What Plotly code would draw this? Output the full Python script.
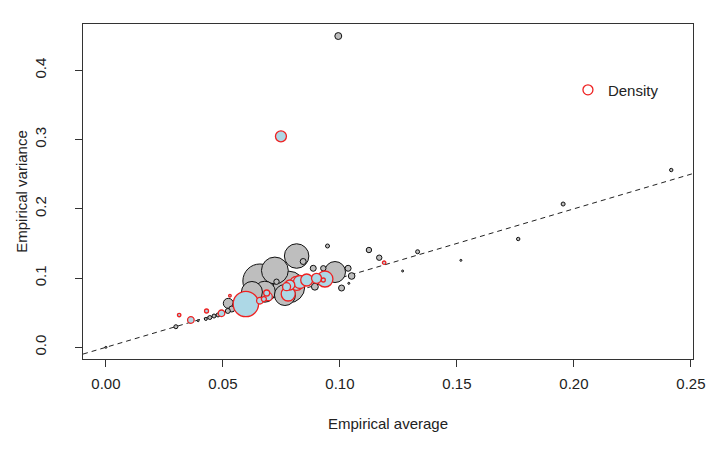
import plotly.graph_objects as go

# ---- data: "other" group (gray bubbles) ----
other_avg = [0.0658, 0.0782, 0.0722, 0.0815, 0.0979, 0.0679, 0.0765, 0.0624, 0.0523, 0.0556,
             0.0993, 0.0893, 0.1050, 0.0843, 0.1035, 0.1007, 0.0886, 0.0538, 0.0929, 0.0729,
             0.1124, 0.1168, 0.0521, 0.0947, 0.1332, 0.1954, 0.0479, 0.0462, 0.0444, 0.0299,
             0.1762, 0.2416, 0.0427, 0.0394, 0.0359, 0.1038, 0.0000, 0.1268, 0.1517]
other_var = [0.0957, 0.0871, 0.1109, 0.1318, 0.1087, 0.0803, 0.0755, 0.0799, 0.0635, 0.0596,
             0.4495, 0.0875, 0.1030, 0.1239, 0.1141, 0.0856, 0.1141, 0.0553, 0.1141, 0.0947,
             0.1405, 0.1294, 0.0525, 0.1463, 0.1380, 0.2069, 0.0467, 0.0452, 0.0430, 0.0297,
             0.1564, 0.2560, 0.0409, 0.0384, 0.0365, 0.0924, 0.0000, 0.1102, 0.1256]
other_n = [2900, 2500, 1800, 1500, 1100, 1100, 1100, 1100, 250, 160,
           120, 120, 110, 90, 90, 90, 90, 90, 73, 73,
           73, 73, 62, 40, 40, 40, 40, 40, 40, 40,
           29, 29, 22, 10, 10, 6, 6, 5, 3]

# ---- data: "Density" group (light blue bubbles, red outline) ----
dens_avg = [0.0598, 0.0936, 0.0815, 0.0779, 0.0829, 0.0858, 0.0748, 0.0786, 0.0900, 0.0694,
            0.0772, 0.0658, 0.0494, 0.0363, 0.0687, 0.0675, 0.0430, 0.0929, 0.0313, 0.1189,
            0.0530]
dens_var = [0.0625, 0.0986, 0.0924, 0.0770, 0.0943, 0.0972, 0.3047, 0.0900, 0.0996, 0.0731,
            0.0875, 0.0673, 0.0491, 0.0394, 0.0784, 0.0697, 0.0524, 0.0972, 0.0466, 0.1222,
            0.0745]
dens_n = [1613, 640, 490, 490, 423, 360, 303, 250, 250, 160,
          160, 109, 109, 109, 90, 62, 40, 40, 29, 29,
          17]

# reference line: variance = average
ref_slope = 1.0
ref_intercept = 0.0

x_range = [-0.0098, 0.2509]
y_range = [-0.0169, 0.4669]
x_ticks = [0.00, 0.05, 0.10, 0.15, 0.20, 0.25]
x_ticklabels = ["0.00", "0.05", "0.10", "0.15", "0.20", "0.25"]
y_ticks = [0.0, 0.1, 0.2, 0.3, 0.4]
y_ticklabels = ["0.0", "0.1", "0.2", "0.3", "0.4"]

FONT = "Liberation Sans, Arial, sans-serif"
SIZEREF = 5.0

fig = go.Figure()

fig.add_trace(go.Scatter(
    x=x_range,
    y=[ref_intercept + ref_slope * v for v in x_range],
    mode="lines",
    line=dict(color="#222222", width=1, dash="5px,4px"),
    showlegend=False, hoverinfo="skip",
))

fig.add_trace(go.Scatter(
    x=other_avg, y=other_var, mode="markers", name="Other",
    marker=dict(size=other_n, sizemode="area", sizeref=SIZEREF, sizemin=1,
                color="#BEBEBE", opacity=1,
                line=dict(color="#111111", width=1)),
    showlegend=False,
))

fig.add_trace(go.Scatter(
    x=dens_avg, y=dens_var, mode="markers", name="Density",
    marker=dict(size=dens_n, sizemode="area", sizeref=SIZEREF, sizemin=1,
                color="#ADD8E6", opacity=1,
                line=dict(color="#EE2222", width=1.3)),
    showlegend=False,
))

# legend entry (open red circle, as in the original key)
fig.add_trace(go.Scatter(
    x=[None], y=[None], mode="markers", name="Density",
    marker=dict(symbol="circle-open", size=10, color="#EE2222", line=dict(width=1.3)),
    showlegend=True,
))

axis_common = dict(
    showline=True, linecolor="#333333", linewidth=1, mirror=True,
    ticks="outside", ticklen=7, tickwidth=1, tickcolor="#333333",
    showgrid=False, zeroline=False, automargin=False,
    tickfont=dict(family=FONT, size=15, color="#222222"),
)

fig.update_xaxes(
    range=x_range, tickvals=x_ticks, ticktext=x_ticklabels,
    title=dict(text="Empirical average", font=dict(family=FONT, size=15, color="#222222"), standoff=27),
    ticklabelstandoff=4,
    **axis_common,
)
fig.update_yaxes(
    range=y_range, tickvals=y_ticks, ticktext=y_ticklabels, tickangle=-90,
    title=dict(text="Empirical variance", font=dict(family=FONT, size=15, color="#222222"), standoff=0),
    ticklabelstandoff=23,
    **axis_common,
)

# the page adds an 8px body margin, so the figure is 8px smaller on each axis
fig.update_layout(
    width=717, height=443,
    margin=dict(l=75, r=32, t=16, b=92),
    paper_bgcolor="white", plot_bgcolor="white",
    font=dict(family=FONT, size=15, color="#222222"),
    legend=dict(x=0.795, y=0.852, xanchor="left", yanchor="top",
                bgcolor="rgba(0,0,0,0)", borderwidth=0,
                font=dict(family=FONT, size=15, color="#222222"),
                itemwidth=30),
)

fig.write_html("out.html")
